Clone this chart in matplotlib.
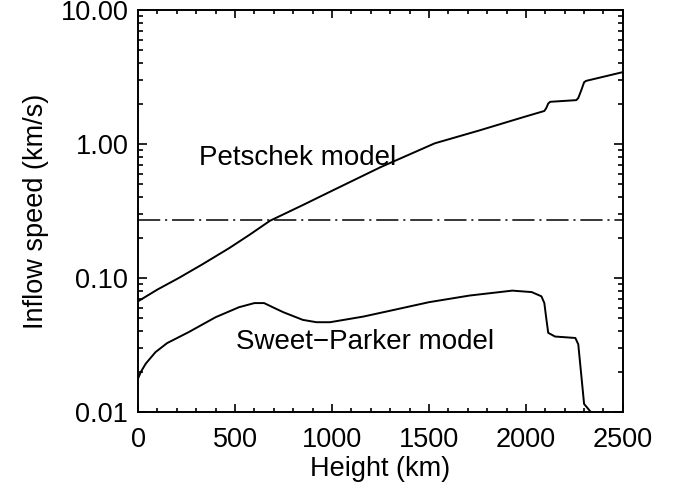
import numpy as np
import matplotlib
matplotlib.use("Agg")
import matplotlib.pyplot as plt
from matplotlib.ticker import FixedLocator, FuncFormatter, MultipleLocator, NullFormatter

## ===== Data ===== ##

pet_height = [0, 100, 210, 330, 470, 575, 680, 850, 1000, 1250, 1530, 1760, 1985,
              2095, 2105, 2115, 2125, 2260, 2270, 2285, 2300, 2310, 2500]
pet_speed = [0.067, 0.082, 0.100, 0.126, 0.167, 0.21, 0.267, 0.35, 0.447, 0.67, 1.01, 1.26, 1.58,
             1.76, 1.85, 2.0, 2.06, 2.12, 2.2, 2.5, 2.88, 2.95, 3.43]

sp_height = [0, 15, 40, 90, 150, 260, 400, 520, 600, 650, 700, 750, 850, 920, 990,
             1160, 1300, 1500, 1710, 1930, 2030, 2080, 2095, 2105, 2115, 2150,
             2255, 2270, 2300, 2335, 2360]
sp_speed = [0.0178, 0.020, 0.023, 0.028, 0.0327, 0.0394, 0.051, 0.0605, 0.065, 0.065, 0.060,
            0.0555, 0.0487, 0.0468, 0.0468, 0.0515, 0.057, 0.066, 0.074, 0.0805, 0.0785,
            0.073, 0.065, 0.05, 0.039, 0.0366, 0.0357, 0.032, 0.0115, 0.010, 0.0093]

threshold = 0.27

x_ticks = [0, 500, 1000, 1500, 2000, 2500]
y_ticks = [0.01, 0.1, 1.0, 10.0]

## ====================================== ##

plt.rcParams['font.family'] = ['Liberation Sans', 'DejaVu Sans']
plt.rcParams['lines.scale_dashes'] = False

fig = plt.figure(figsize=(6.8, 4.9), dpi=100)
ax = fig.add_axes([0.203, 0.159, 0.713, 0.821])

ax.plot(pet_height, pet_speed, color="black", lw=1.4)
ax.plot(sp_height, sp_speed, color="black", lw=1.4)
ax.axhline(threshold, color="black", lw=1.1, ls=(0, (16, 3.5, 1.5, 3.5)))

ax.set_yscale("log")
ax.set_xlim(0, 2500)
ax.set_ylim(0.01, 10)

ax.xaxis.set_major_locator(FixedLocator(x_ticks))
ax.xaxis.set_minor_locator(MultipleLocator(100))
ax.yaxis.set_major_locator(FixedLocator(y_ticks))
ax.yaxis.set_major_formatter(FuncFormatter(lambda v, p: "%.2f" % v))
ax.yaxis.set_minor_formatter(NullFormatter())

ax.tick_params(axis="both", which="both", direction="in", top=True, right=True,
               width=1.2, colors="black")
ax.tick_params(axis="x", which="major", length=5.8, pad=11, labelsize=19.5)
ax.tick_params(axis="x", which="minor", length=2.9)
ax.tick_params(axis="y", which="major", length=6.8, pad=7, labelsize=19.5)
ax.tick_params(axis="y", which="minor", length=3.6)
for s in ax.spines.values():
    s.set_linewidth(1.4)

ax.set_xlabel("Height (km)", fontsize=19.5, labelpad=2)
ax.set_ylabel("Inflow speed (km/s)", fontsize=19.5, labelpad=8)

ax.text(314, 0.70, "Petschek model", fontsize=20, va="baseline", ha="left")
ax.text(503, 0.0296, "Sweet\u2212Parker model", fontsize=20, va="baseline", ha="left")

fig.savefig("out.png", dpi=100)
